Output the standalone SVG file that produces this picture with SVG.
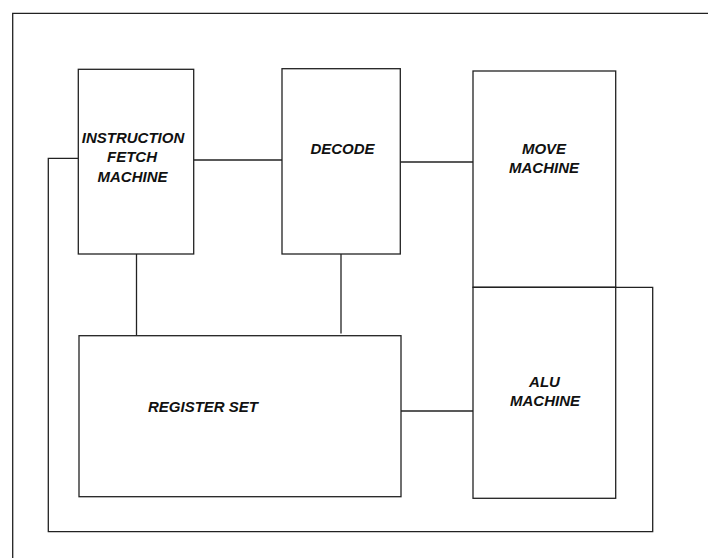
<svg xmlns="http://www.w3.org/2000/svg" width="708" height="558" viewBox="0 0 708 558">
<style>
.box{fill:#fff;stroke:#222;stroke-width:1.3}
.ln{fill:none;stroke:#222;stroke-width:1.3}
.t{font-family:"Liberation Sans",Arial,sans-serif;font-size:15px;font-style:italic;font-weight:bold;fill:#111;text-anchor:middle}
</style>
<rect width="708" height="558" fill="#fff"/>
<g id="frame">
<path class="ln" d="M12.7,558 V13.3 H708"/>
</g>
<g id="connectors">
<path class="ln" d="M78.3,158.3 H48.3 V531.7 H652.7 V287.3 H473"/>
<path class="ln" d="M193.7,160 H282"/>
<path class="ln" d="M400.3,162 H473"/>
<path class="ln" d="M136.5,254 V335.7"/>
<path class="ln" d="M341,254 V333.5"/>
<path class="ln" d="M401,411 H473"/>
</g>
<g id="instruction-fetch">
<rect class="box" x="78.3" y="69.3" width="115.4" height="184.7"/>
<text class="t" x="133" y="143.3">INSTRUCTION</text>
<text class="t" x="132" y="162.3">FETCH</text>
<text class="t" x="132.5" y="181.7">MACHINE</text>
</g>
<g id="decode">
<rect class="box" x="282" y="68.7" width="118.3" height="185.3"/>
<text class="t" x="342.5" y="154">DECODE</text>
</g>
<g id="move">
<rect class="box" x="473" y="71" width="142.7" height="216.3" fill="none"/>
<text class="t" x="544" y="154.3">MOVE</text>
<text class="t" x="544" y="173.3">MACHINE</text>
</g>
<g id="alu">
<rect class="box" x="473" y="287.3" width="142.7" height="211" style="fill:none"/>
<text class="t" x="544.5" y="386.7">ALU</text>
<text class="t" x="545" y="405.7">MACHINE</text>
</g>
<g id="register-set">
<rect class="box" x="79" y="335.7" width="322" height="161"/>
<text class="t" x="203" y="412.3">REGISTER SET</text>
</g>
</svg>
